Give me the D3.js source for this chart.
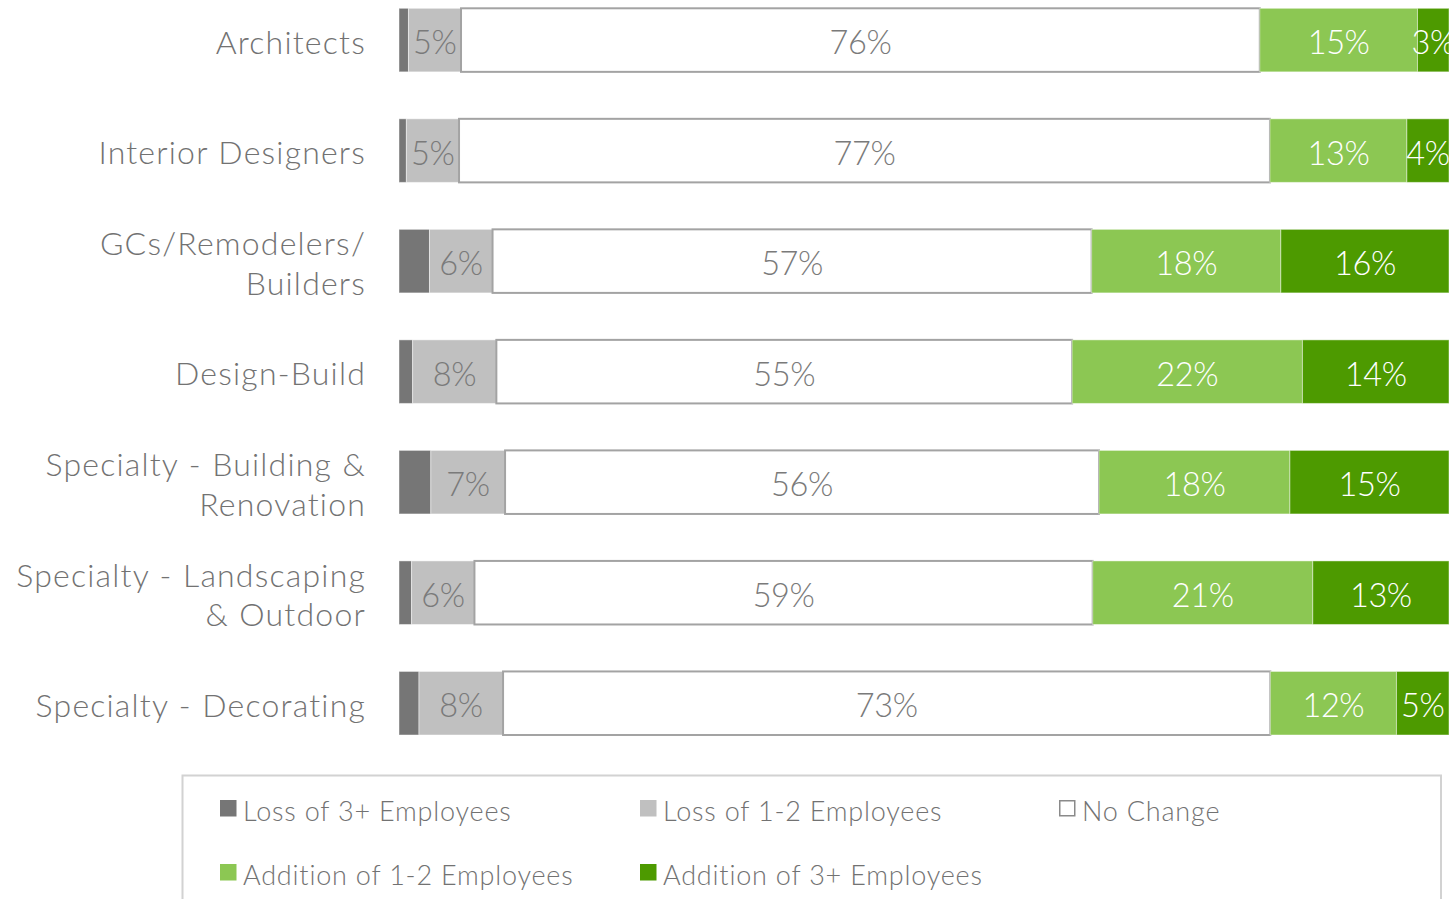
<!DOCTYPE html>
<html>
<head>
<meta charset="utf-8">
<script src="https://cdn.jsdelivr.net/npm/d3@7"></script>
<style>
  html, body { margin: 0; padding: 0; background: #ffffff; }
  svg { display: block; font-family: Lato, "Open Sans", sans-serif; }
</style>
</head>
<body>
<svg id="chart" width="1454" height="899"></svg>
<script>
// Respondent groups (multi-line labels split on "|")
const categories = [
  "Architects",
  "Interior Designers",
  "GCs/Remodelers/|Builders",
  "Design-Build",
  "Specialty - Building &|Renovation",
  "Specialty - Landscaping|& Outdoor",
  "Specialty - Decorating"
];

const seriesNames = [
  "Loss of 3+ Employees",
  "Loss of 1-2 Employees",
  "No Change",
  "Addition of 1-2 Employees",
  "Addition of 3+ Employees"
];

// Share of firms (%) per group, one array per series
const loss3  = [0.9, 0.7, 2.9, 1.3, 3.0, 1.2, 1.9];
const loss12 = [5, 5, 6, 8, 7, 6, 8];
const noChange = [76, 77, 57, 55, 56, 59, 73];
const add12  = [15, 13, 18, 22, 18, 21, 12];
const add3   = [3, 4, 16, 14, 15, 13, 5];

// Which series print their value inside the bar
const showLabel = [false, true, true, true, true];

const colors = ["#767676", "#c0c0c0", "#ffffff", "#8cc753", "#4d9a00"];
const labelColors = ["#ffffff", "#7a7a7a", "#7a7a7a", "#ffffff", "#ffffff"];

const svg = d3.select("#chart");

// Build rows and normalise each to 100%
const seriesValues = [loss3, loss12, noChange, add12, add3];
const rows = categories.map((c, i) => {
  const row = { category: c };
  seriesNames.forEach((s, j) => row[s] = seriesValues[j][i]);
  return row;
});

const stack = d3.stack().keys(seriesNames).offset(d3.stackOffsetExpand);
const stacked = stack(rows);

const x = d3.scaleLinear().domain([0, 1]).range([399, 1449]);
const y = d3.scaleBand()
  .domain(categories)
  .range([8.3, 735])
  .paddingInner(0.425)
  .paddingOuter(0);

// Clip the plot at the right edge
svg.append("defs").append("clipPath").attr("id", "plotClip")
  .append("rect").attr("x", 0).attr("y", 0).attr("width", 1449).attr("height", 760);

const plot = svg.append("g").attr("clip-path", "url(#plotClip)");

stacked.forEach((layer, j) => {
  const g = plot.append("g");
  g.selectAll("rect")
    .data(layer)
    .join("rect")
    .attr("x", d => x(d[0]))
    .attr("y", d => y(d.data.category))
    .attr("width", d => x(d[1]) - x(d[0]))
    .attr("height", y.bandwidth())
    .attr("fill", colors[j])
    .attr("stroke", j === 2 ? "#a3a3a3" : "rgba(255,255,255,0.45)")
    .attr("stroke-width", j === 2 ? 2 : 1);
});

// Value labels
stacked.forEach((layer, j) => {
  if (!showLabel[j]) return;
  plot.append("g").selectAll("text")
    .data(layer)
    .join("text")
    .attr("x", d => (x(d[0]) + x(d[1])) / 2)
    .attr("y", d => y(d.data.category) + y.bandwidth() / 2 + 14)
    .attr("text-anchor", "middle")
    .attr("font-size", 32.5)
    .attr("font-weight", 300)
    .attr("letter-spacing", -0.4)
    .attr("fill", labelColors[j])
    .text((d, i) => seriesValues[j][i] + "%");
});

// Category labels, right aligned
const catG = svg.append("g");
categories.forEach(c => {
  const lines = c.split("|");
  const cy = y(c) + y.bandwidth() / 2;
  const lh = 39.5;
  const t = catG.append("text")
    .attr("text-anchor", "end")
    .attr("font-size", 32)
    .attr("font-weight", 300)
    .attr("letter-spacing", 1.2)
    .attr("word-spacing", 0.5)
    .attr("fill", "#727272");
  lines.forEach((ln, k) => {
    t.append("tspan")
      .attr("x", 366)
      .attr("y", cy + (k - (lines.length - 1) / 2) * lh + 13.7)
      .text(ln);
  });
});

// Legend
const legend = svg.append("g");
legend.append("rect")
  .attr("x", 182.5).attr("y", 775.5)
  .attr("width", 1258.5).attr("height", 160)
  .attr("fill", "none").attr("stroke", "#d2d2d2").attr("stroke-width", 2);

const legendPos = [[220, 800], [640, 800], [1059, 800], [220, 864], [640, 864]];
seriesNames.forEach((s, j) => {
  const [lx, ly] = legendPos[j];
  legend.append("rect")
    .attr("x", j === 2 ? lx + 0.75 : lx)
    .attr("y", j === 2 ? ly + 0.75 : ly)
    .attr("width", j === 2 ? 15 : 16.5)
    .attr("height", j === 2 ? 15 : 16.5)
    .attr("fill", colors[j])
    .attr("stroke", j === 2 ? "#8a8a8a" : "none")
    .attr("stroke-width", 1.5);
  legend.append("text")
    .attr("x", lx + 23)
    .attr("y", ly + 20.5)
    .attr("font-size", 27)
    .attr("font-weight", 300)
    .attr("letter-spacing", 0.8)
    .attr("fill", "#727272")
    .text(s);
});
</script>
</body>
</html>
